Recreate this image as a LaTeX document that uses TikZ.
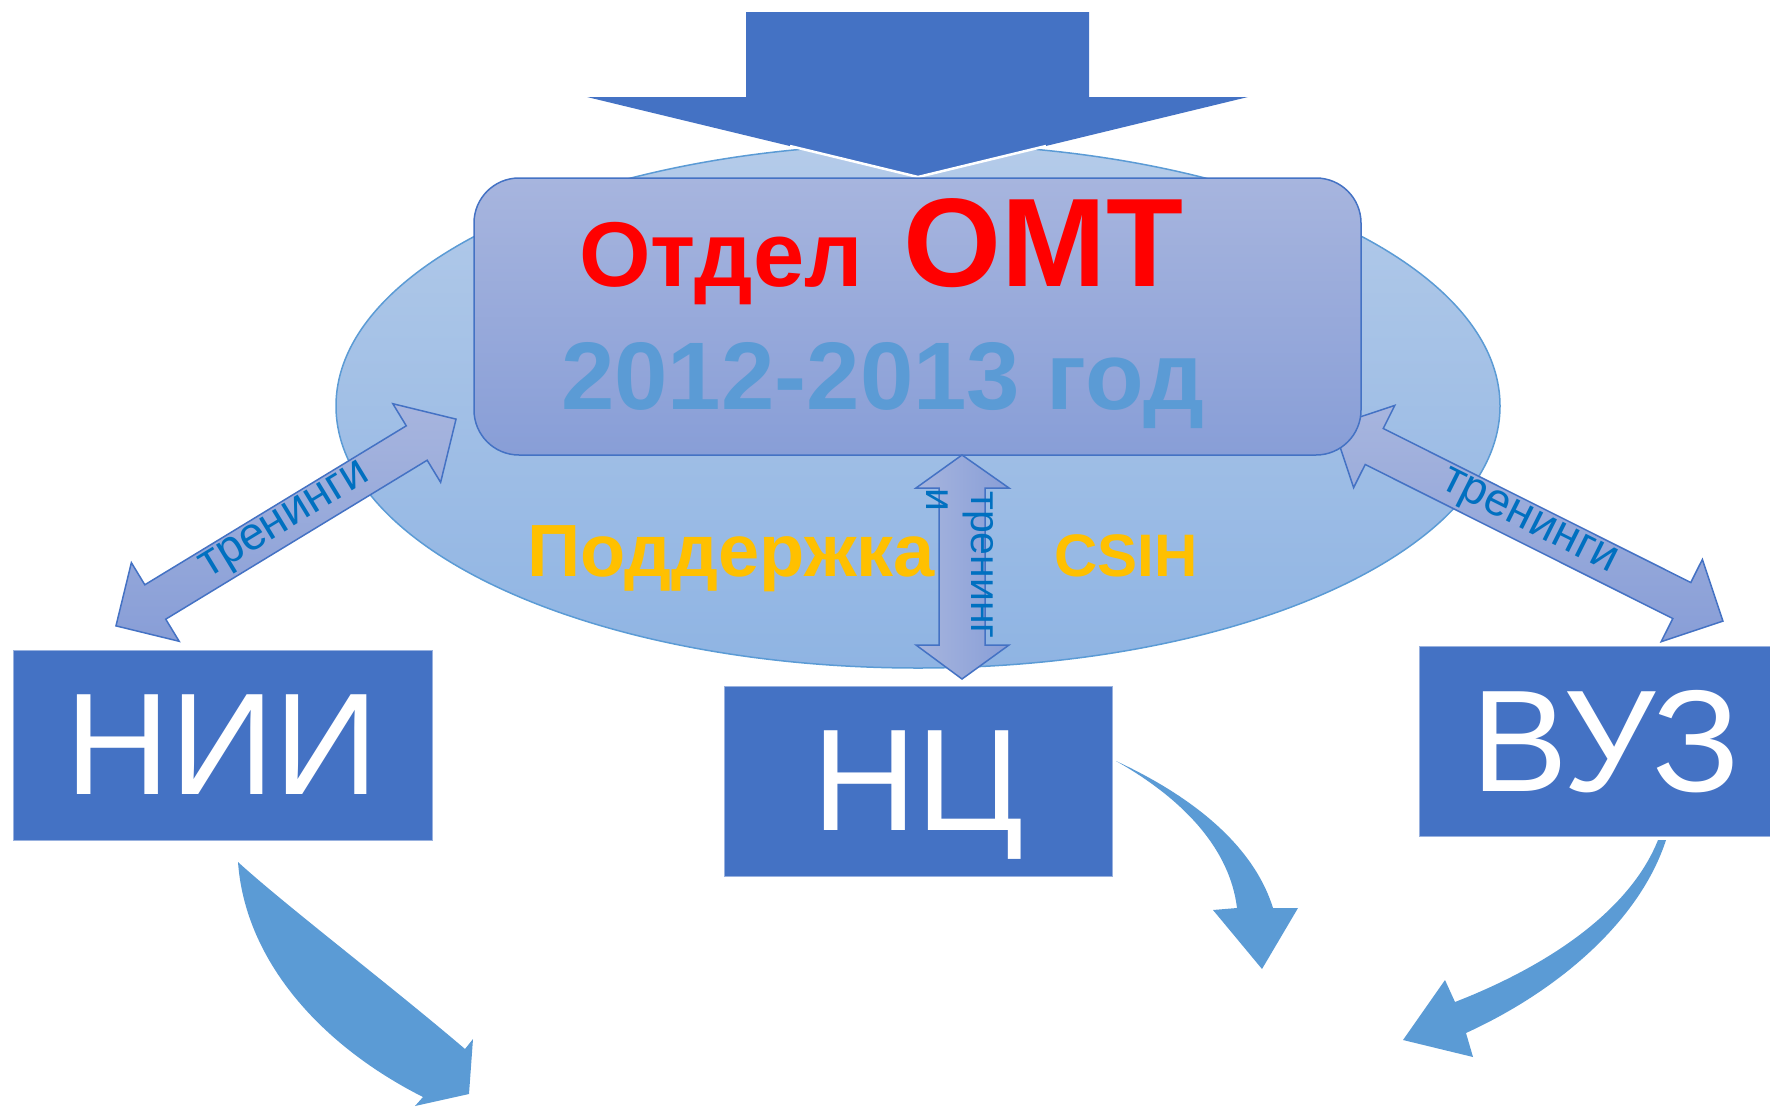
\documentclass[tikz,border=0pt]{standalone}
\usepackage{fontspec}
\setmainfont{Liberation Sans}
\usetikzlibrary{shapes.arrows,shapes.geometric}
\definecolor{unitblue}{HTML}{4472C4}
\definecolor{curveblue}{HTML}{5B9BD5}
\definecolor{ovaltop}{HTML}{B4CBE9}
\definecolor{ovalbot}{HTML}{8FB4E3}
\definecolor{deptop}{HTML}{A7B5DE}
\definecolor{depbot}{HTML}{889ED7}
\definecolor{labelblue}{HTML}{0070C0}
\definecolor{gold}{HTML}{FFC000}
\tikzstyle{unit}=[rectangle,fill=unitblue,draw=unitblue!55!white,text=white,inner sep=0pt,text depth=0pt,minimum height=190pt,font=\fontsize{145}{150}\selectfont]
\tikzstyle{twoway}=[double arrow,draw=unitblue,line width=1.5pt,top color=deptop,bottom color=depbot,inner sep=0pt,minimum width=92pt,double arrow head extend=23pt,text=labelblue,font=\fontsize{46}{48}\selectfont]
\tikzstyle{headline}=[inner sep=0pt,anchor=base west]
\tikzstyle{flowarrow}=[fill=curveblue]

\begin{document}
\begin{tikzpicture}[x=1pt,y=-1pt]
	\useasboundingbox (0,0) rectangle (1770,1106);

	\node[ellipse,draw=curveblue,line width=1.5pt,top color=ovaltop,bottom color=ovalbot,minimum width=1164pt,minimum height=524pt] (oval) at (918,406) {};

	% arrow from above
	\fill[unitblue] (746,12) -- (1089,12) -- (1089,97) -- (1248,97) -- (918,177) -- (587,97) -- (746,97) -- cycle;
	\draw[white,line width=2.5pt] (790,146) -- (918,177) -- (1046,146);

	\node[twoway,rotate=31.3,minimum height=398pt] (trainL) at (286,522.5) {тренинги};
	\node[twoway,rotate=-26.6,minimum height=436pt] (trainR) at (1528,523.5) {тренинги};

	\node[rectangle,rounded corners=45pt,draw=unitblue,line width=1.5pt,top color=deptop,bottom color=depbot,minimum width=887pt,minimum height=277pt] (dept) at (917.5,316.5) {};

	% arrow between dept and NC
	\draw[draw=unitblue,line width=1.5pt,left color=deptop,right color=depbot] (962,455) -- (1009,488) -- (985,488) -- (985,645) -- (1009,645) -- (962,679) -- (916,645) -- (939,645) -- (939,488) -- (916,488) -- cycle;

	\node[headline,text=red,font=\bfseries\fontsize{92}{96}\selectfont] (depname) at (579,286) {Отдел};
	\node[headline,text=red,font=\bfseries\fontsize{126}{130}\selectfont] (omt) at (903,286) {ОМТ};
	\node[headline,text=curveblue,font=\bfseries\fontsize{96}{100}\selectfont] (years) at (561,409) {2012-2013 год};
	\node[headline,text=gold,font=\bfseries\fontsize{74}{78}\selectfont] (support) at (527,576) {Поддержка};
	\node[headline,text=gold,font=\bfseries\fontsize{60}{64}\selectfont] (csih) at (1054,576) {CSIH};
	\node[inner sep=0pt,rotate=-90,text=labelblue,font=\fontsize{41}{43}\selectfont] (trainword) at (978,565) {тренинг};
	\node[inner sep=0pt,rotate=-90,text=labelblue,font=\fontsize{41}{43}\selectfont] (andword) at (937,500) {и};

	\node[unit,minimum width=419pt] (nii) at (222.5,745) {НИИ};
	\node[unit,minimum width=388pt] (nc) at (918,781) {НЦ};
	\node[unit,minimum width=373pt] (vuz) at (1605.5,741) {ВУЗ};

	% curved arrows below the units
	\fill[flowarrow] (238,862) .. controls (285,905) and (390,985) .. (465,1049) -- (473,1039) -- (469,1094) -- (415,1106) -- (423,1097) .. controls (320,1045) and (245,960) .. (238,862) -- cycle;
	\fill[flowarrow] (1116,761) .. controls (1200,800) and (1255,850) .. (1273,908) -- (1298,908) -- (1262,969) -- (1213,910) -- (1237,908) .. controls (1230,850) and (1185,800) .. (1116,761) -- cycle;
	\fill[flowarrow] (1658,840) .. controls (1630,910) and (1550,965) .. (1455,1002) -- (1445,980) -- (1403,1040) -- (1473,1057) -- (1466,1033) .. controls (1560,990) and (1640,920) .. (1666,840) -- cycle;
\end{tikzpicture}
\end{document}
